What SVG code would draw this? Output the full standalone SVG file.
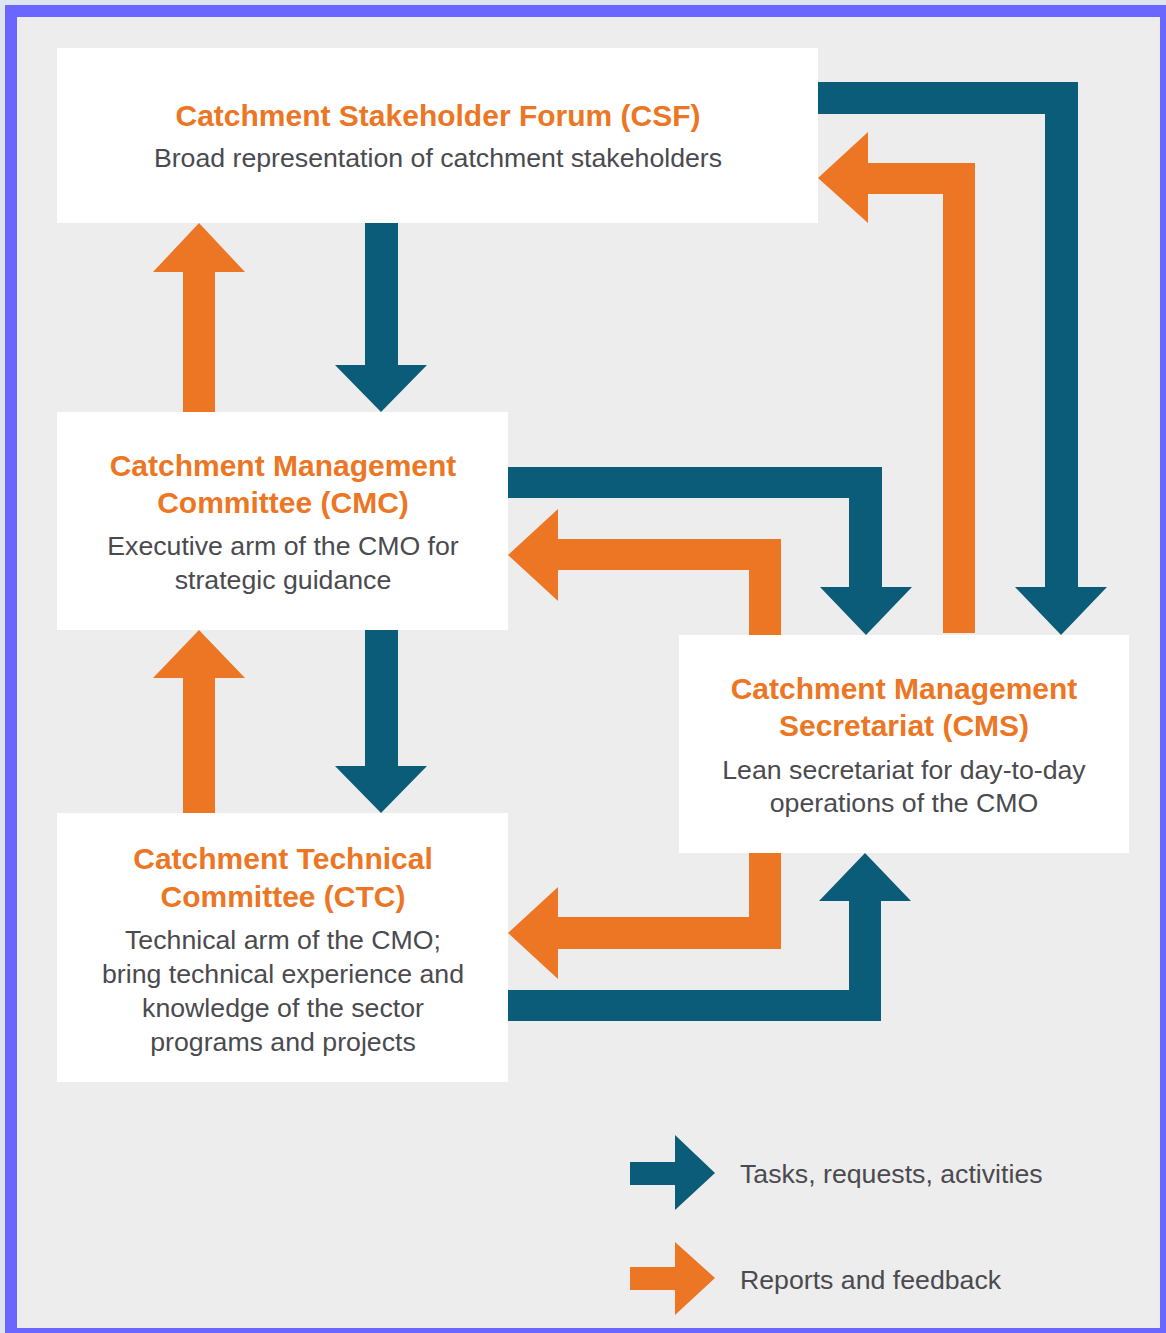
<svg xmlns="http://www.w3.org/2000/svg" width="1166" height="1333" viewBox="0 0 1166 1333">
  <style>
    .box { fill: #ffffff; }
    .title { font-family: "Liberation Sans", Arial, sans-serif; font-weight: bold; font-size: 30px; fill: #ec7624; text-anchor: middle; }
    .body { font-family: "Liberation Sans", Arial, sans-serif; font-size: 26.7px; fill: #4a4a4f; text-anchor: middle; }
    .legend { font-family: "Liberation Sans", Arial, sans-serif; font-size: 26.7px; fill: #4a4a4f; }
    .blue { fill: #0b5c78; }
    .orange { fill: #ec7623; }
  </style>
  <rect x="0" y="0" width="1166" height="1333" fill="#dde5f0"/>
  <rect x="5" y="5" width="1175" height="1345" fill="#6b66ff"/>
  <rect x="17" y="17" width="1143" height="1311" fill="#ededed"/>

  <g id="connectors">
    <polygon class="blue" points="365,223 398,223 398,365 427,365 381,412 335,365 365,365"/>
    <polygon class="orange" points="183,412 215,412 215,272 245,272 199,223 153,272 183,272"/>
    <polygon class="blue" points="365,630 398,630 398,766 427,766 381,813 335,766 365,766"/>
    <polygon class="orange" points="183,813 215,813 215,678 245,678 199,630 153,678 183,678"/>
    <polygon class="blue" points="818,82 1078,82 1078,587 1107,587 1061,635 1015,587 1045,587 1045,114 818,114"/>
    <polygon class="orange" points="975,633 943,633 943,194 868,194 868,223 818,178 868,132 868,163 975,163"/>
    <polygon class="blue" points="508,467 882,467 882,587 912,587 866,635 820,587 849,587 849,498 508,498"/>
    <polygon class="orange" points="781,635 749,635 749,570 558,570 558,601 508,555 558,509 558,539 781,539"/>
    <polygon class="orange" points="749,853 781,853 781,949 558,949 558,979 508,933 558,887 558,917 749,917"/>
    <polygon class="blue" points="508,990 849,990 849,901 819,901 865,853 911,901 881,901 881,1021 508,1021"/>
  </g>

  <g id="csf">
    <rect class="box" x="57" y="48" width="761" height="175"/>
    <text class="title" x="438" y="126">Catchment Stakeholder Forum (CSF)</text>
    <text class="body" x="438" y="167">Broad representation of catchment stakeholders</text>
  </g>

  <g id="cmc">
    <rect class="box" x="57" y="412" width="451" height="218"/>
    <text class="title" x="283" y="476">Catchment Management</text>
    <text class="title" x="283" y="513">Committee (CMC)</text>
    <text class="body" x="283" y="555">Executive arm of the CMO for</text>
    <text class="body" x="283" y="589">strategic guidance</text>
  </g>

  <g id="cms">
    <rect class="box" x="679" y="635" width="450" height="218"/>
    <text class="title" x="904" y="699">Catchment Management</text>
    <text class="title" x="904" y="736">Secretariat (CMS)</text>
    <text class="body" x="904" y="779">Lean secretariat for day-to-day</text>
    <text class="body" x="904" y="812">operations of the CMO</text>
  </g>

  <g id="ctc">
    <rect class="box" x="57" y="813" width="451" height="269"/>
    <text class="title" x="283" y="869">Catchment Technical</text>
    <text class="title" x="283" y="907">Committee (CTC)</text>
    <text class="body" x="283" y="949">Technical arm of the CMO;</text>
    <text class="body" x="283" y="983">bring technical experience and</text>
    <text class="body" x="283" y="1017">knowledge of the sector</text>
    <text class="body" x="283" y="1051">programs and projects</text>
  </g>

  <g id="legend">
    <polygon class="blue" points="630,1162 675,1162 675,1135 715,1173 675,1210 675,1185 630,1185"/>
    <text class="legend" x="740" y="1183">Tasks, requests, activities</text>
    <polygon class="orange" points="630,1267 675,1267 675,1242 715,1278 675,1315 675,1290 630,1290"/>
    <text class="legend" x="740" y="1289">Reports and feedback</text>
  </g>
</svg>
